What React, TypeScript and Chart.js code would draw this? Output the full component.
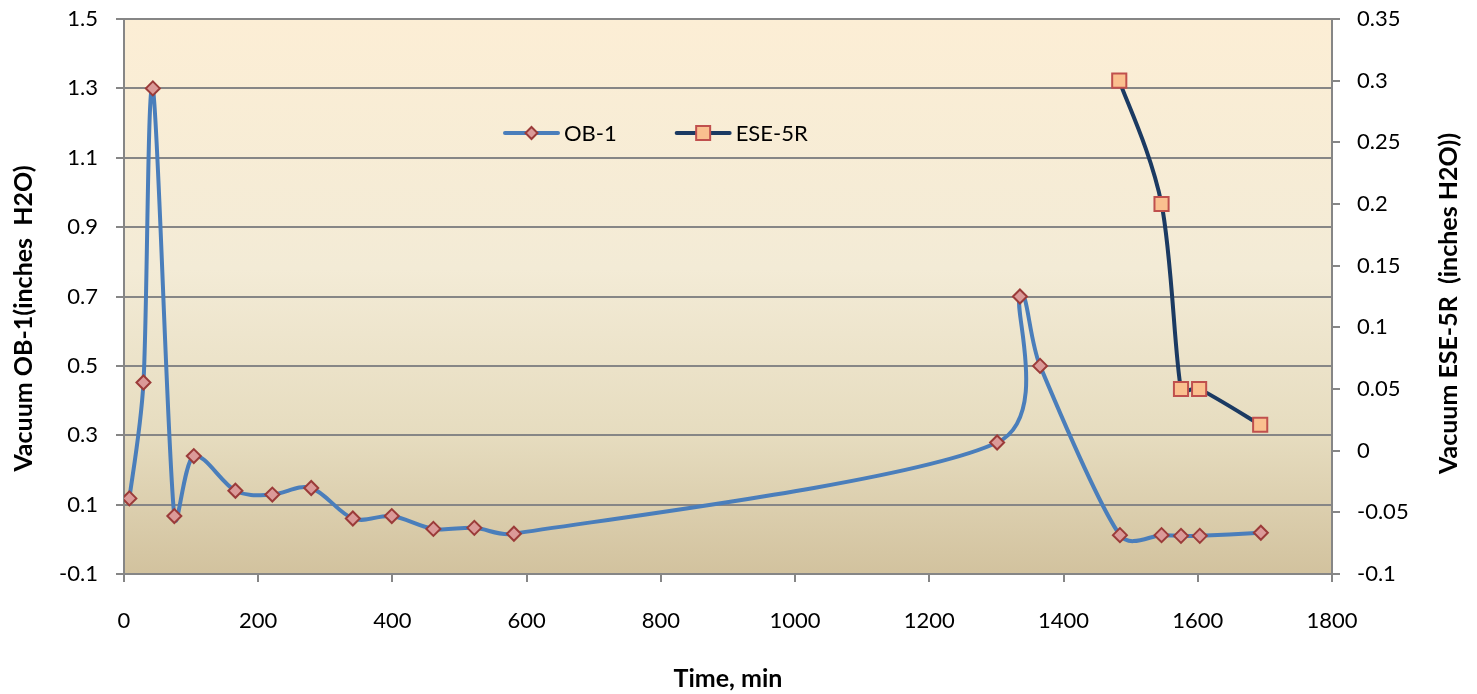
import React, { useEffect, useRef } from 'react';
import { Chart, registerables } from 'chart.js';

Chart.register(...registerables);

// ---- Data ----
const obTimes = [8, 29, 43, 75, 104, 166, 221, 279, 341, 399, 461, 522, 581, 1301, 1335, 1365, 1484, 1546, 1575, 1603, 1694];
const obValues = [0.118, 0.452, 1.3, 0.067, 0.24, 0.14, 0.129, 0.148, 0.06, 0.067, 0.03, 0.033, 0.016, 0.279, 0.7, 0.5, 0.012, 0.012, 0.01, 0.01, 0.019];
const eseTimes = [1483, 1546, 1575, 1602, 1693];
const eseValues = [0.3, 0.2, 0.05, 0.05, 0.021];

const xTickStep = 200;
const leftTickStep = 0.2;
const rightTickStep = 0.05;

const seriesNames = ['OB-1', 'ESE-5R'];
const xTitle = 'Time, min';
const leftTitle = 'Vacuum OB-1(inches  H2O)';
const rightTitle = 'Vacuum ESE-5R  (inches H2O))';

const FONT = 'Lato, "Open Sans", "Liberation Sans", sans-serif';
const GRID = '#868686';

const bgPlugin = {
  id: 'plotBg',
  beforeDraw(chart: any) {
    const { ctx, chartArea } = chart;
    if (!chartArea) return;
    const g = ctx.createLinearGradient(0, chartArea.top, 0, chartArea.bottom);
    g.addColorStop(0, '#FCEED5');
    g.addColorStop(0.45, '#F3EBD6');
    g.addColorStop(0.75, '#E6DCBF');
    g.addColorStop(1, '#D2C29E');
    ctx.save();
    ctx.fillStyle = g;
    ctx.fillRect(chartArea.left, chartArea.top, chartArea.right - chartArea.left, chartArea.bottom - chartArea.top);
    ctx.restore();
  },
};

// Excel-like smoothing: tangent (next - prev) / 6, limited by the adjacent segment length
const excelSmoothPlugin = {
  id: 'excelSmooth',
  beforeDatasetDraw(chart: any, args: any) {
    const meta = args.meta;
    const line = meta.dataset;
    const pts = meta.data;
    if (!line || !pts || !pts.length) return;
    if (line.updateControlPoints) line.updateControlPoints(chart.chartArea, 'x');
    const n = pts.length;
    const k = 0.4;
    for (let i = 0; i < n; i++) {
      const p = pts[i];
      const prev = pts[Math.max(0, i - 1)];
      const next = pts[Math.min(n - 1, i + 1)];
      const tx = (next.x - prev.x) / 6;
      const ty = (next.y - prev.y) / 6;
      const tl = Math.hypot(tx, ty) || 1;
      const dPrev = Math.hypot(p.x - prev.x, p.y - prev.y);
      const dNext = Math.hypot(next.x - p.x, next.y - p.y);
      const sPrev = Math.min(1, (k * dPrev) / tl);
      const sNext = Math.min(1, (k * dNext) / tl);
      p.cp1x = p.x - tx * sPrev;
      p.cp1y = p.y - ty * sPrev;
      p.cp2x = p.x + tx * sNext;
      p.cp2y = p.y + ty * sNext;
    }
  },
};

const titlesPlugin = {
  id: 'yTitles',
  afterDraw(chart: any) {
    const { ctx, chartArea } = chart;
    const h = chartArea.bottom - chartArea.top;
    const midY = chartArea.top + h / 2;
    ctx.save();
    ctx.fillStyle = '#000';
    ctx.font = `bold 25px ${FONT}`;
    ctx.textAlign = 'center';
    ctx.textBaseline = 'middle';
    ctx.save();
    ctx.translate(chartArea.left - 100, midY + 22);
    ctx.rotate(-Math.PI / 2);
    ctx.fillText(leftTitle, 0, 0);
    ctx.restore();
    ctx.save();
    ctx.translate(chartArea.right + 117, midY + 7);
    ctx.rotate(-Math.PI / 2);
    ctx.fillText(rightTitle, 0, 0);
    ctx.restore();
    ctx.restore();
  },
};

const legendPlugin = {
  id: 'innerLegend',
  afterDatasetsDraw(chart: any) {
    const { ctx, chartArea } = chart;
    const w = chartArea.right - chartArea.left;
    const h = chartArea.bottom - chartArea.top;
    const y = chartArea.top + h * 0.2054;
    const starts = [0.3154, 0.4575];
    ctx.save();
    chart.data.datasets.forEach((ds: any, i: number) => {
      const x0 = chartArea.left + w * starts[i];
      const lineLen = 53;
      ctx.strokeStyle = ds.borderColor;
      ctx.lineWidth = 4;
      ctx.lineCap = 'round';
      ctx.beginPath();
      ctx.moveTo(x0, y);
      ctx.lineTo(x0 + lineLen, y);
      ctx.stroke();
      const cx = x0 + lineLen / 2;
      ctx.fillStyle = ds.pointBackgroundColor;
      ctx.strokeStyle = ds.pointBorderColor;
      ctx.lineWidth = 2;
      ctx.beginPath();
      if (ds.pointStyle === 'rectRot') {
        const r = 6;
        ctx.moveTo(cx, y - r);
        ctx.lineTo(cx + r, y);
        ctx.lineTo(cx, y + r);
        ctx.lineTo(cx - r, y);
        ctx.closePath();
      } else {
        const s = 7;
        ctx.rect(cx - s, y - s, 2 * s, 2 * s);
      }
      ctx.fill();
      ctx.stroke();
      ctx.fillStyle = '#000';
      ctx.font = `22px ${FONT}`;
      ctx.textBaseline = 'middle';
      ctx.textAlign = 'left';
      ctx.fillText(ds.label, x0 + lineLen + 6, y + 1);
    });
    ctx.restore();
  },
};

const noVPad = (s: any, w: number) => {
  s.width = w;
  s.paddingTop = 0;
  s.paddingBottom = 0;
};

export default function App() {
  const ref = useRef<HTMLCanvasElement | null>(null);

  useEffect(() => {
    document.body.style.margin = '0';
    const canvas = ref.current;
    if (!canvas) return;

    const obData = obTimes.map((t, i) => ({ x: t, y: obValues[i] }));
    const eseData = eseTimes.map((t, i) => ({ x: t, y: eseValues[i] }));

    const chart = new Chart(canvas, {
      type: 'line',
      data: {
        datasets: [
          {
            label: seriesNames[0],
            data: obData,
            yAxisID: 'y',
            borderColor: '#4A7EBB',
            borderWidth: 4,
            tension: 0.5,
            pointStyle: 'rectRot',
            pointRadius: 7,
            pointBackgroundColor: '#DB9A98',
            pointBorderColor: '#9B3B39',
            pointBorderWidth: 2,
            fill: false,
          },
          {
            label: seriesNames[1],
            data: eseData,
            yAxisID: 'y1',
            borderColor: '#1B3A62',
            borderWidth: 4,
            tension: 0.5,
            pointStyle: 'rect',
            pointRadius: 10,
            pointBackgroundColor: '#FAC08F',
            pointBorderColor: '#C0504D',
            pointBorderWidth: 2,
            fill: false,
          },
        ],
      },
      options: {
        animation: false,
        responsive: false,
        devicePixelRatio: 1,
        layout: { padding: { top: 19, left: 0, right: 0, bottom: 0 } },
        plugins: {
          legend: { display: false },
          tooltip: { enabled: false },
        },
        scales: {
          x: {
            type: 'linear',
            position: 'bottom',
            min: 0,
            max: 1800,
            ticks: {
              stepSize: xTickStep,
              autoSkip: false,
              maxRotation: 0,
              padding: 26,
              color: '#000',
              font: { family: FONT, size: 22 },
              callback: (v: any) => String(v),
            },
            grid: { drawOnChartArea: false, drawTicks: true, tickLength: 8, color: GRID, lineWidth: 2 },
            border: { color: GRID, width: 2 },
            title: {
              display: true,
              text: xTitle,
              color: '#000',
              font: { family: FONT, size: 25, weight: 'bold' },
              padding: { top: 2, bottom: 0 },
            },
            afterFit: (s: any) => {
              s.height = 120;
              s.paddingLeft = 0;
              s.paddingRight = 0;
            },
          },
          y: {
            type: 'linear',
            position: 'left',
            min: -0.1,
            max: 1.5,
            ticks: {
              stepSize: leftTickStep,
              padding: 18,
              color: '#000',
              font: { family: FONT, size: 22 },
              callback: (v: any) => Number(v).toFixed(1),
            },
            grid: { drawOnChartArea: true, drawTicks: true, tickLength: 8, color: GRID, lineWidth: 2 },
            border: { color: GRID, width: 2 },
            title: { display: false },
            afterFit: (s: any) => noVPad(s, 124),
          },
          y1: {
            type: 'linear',
            position: 'right',
            min: -0.1,
            max: 0.35,
            ticks: {
              stepSize: rightTickStep,
              padding: 17,
              color: '#000',
              font: { family: FONT, size: 22 },
              callback: (v: any) => String(Math.round(Number(v) * 100) / 100),
            },
            grid: { drawOnChartArea: false, drawTicks: true, tickLength: 8, color: GRID, lineWidth: 2 },
            border: { color: GRID, width: 2 },
            title: { display: false },
            afterFit: (s: any) => noVPad(s, 145),
          },
        },
      } as any,
      plugins: [bgPlugin, excelSmoothPlugin, legendPlugin, titlesPlugin],
    });

    return () => chart.destroy();
  }, []);

  return (
    <div style={{ width: 1477, height: 694 }}>
      <canvas ref={ref} width={1477} height={694} style={{ display: 'block' }} />
    </div>
  );
}
